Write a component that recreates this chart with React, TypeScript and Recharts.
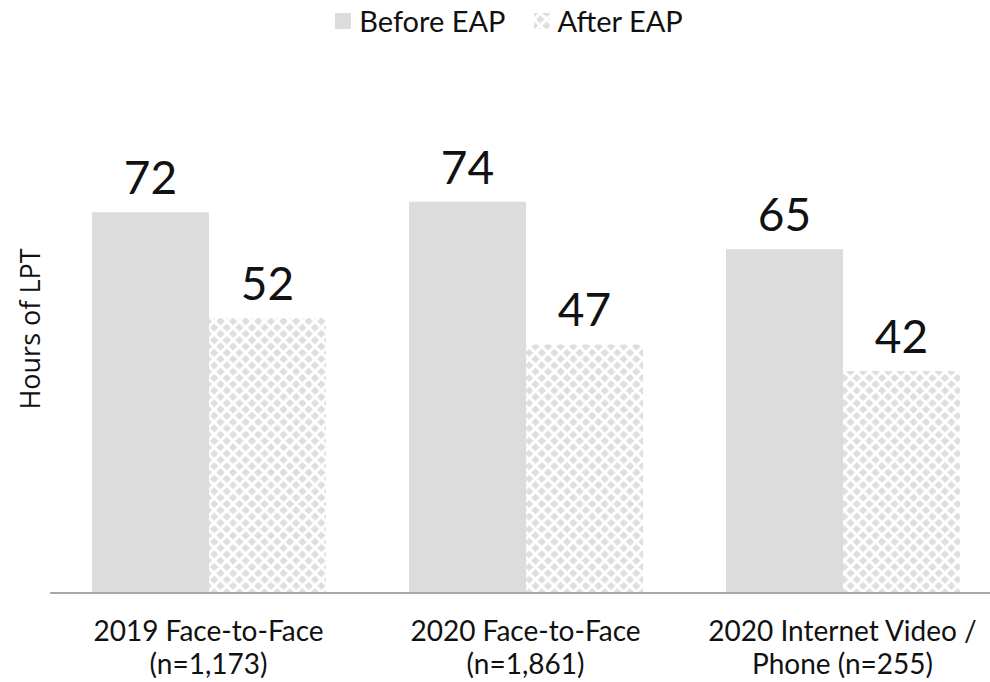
import React from 'react';
import { BarChart, Bar, XAxis, YAxis, LabelList } from 'recharts';

const categories = ['2019 Face-to-Face|(n=1,173)', '2020 Face-to-Face|(n=1,861)', '2020 Internet Video /|Phone (n=255)'];
const beforeEap = [72, 74, 65];
const afterEap = [52, 47, 42];

const data = categories.map((c, i) => ({ name: c, before: beforeEap[i], after: afterEap[i] }));

const FONT = 'Lato, "DejaVu Sans", sans-serif';

function CatTick(props: any) {
  const { x, y, payload } = props;
  const lines = String(payload.value).split('|');
  return (
    <g transform={`translate(${x},${y})`}>
      {lines.map((l, i) => (
        <text key={i} x={0} y={40 + i * 33} textAnchor="middle" fontSize={28} fill="#111" fontFamily={FONT}>
          {l}
        </text>
      ))}
    </g>
  );
}

function LegendItem({ label, fill }: { label: string; fill: string }) {
  return (
    <span style={{ display: 'inline-flex', alignItems: 'center', margin: '0 14px' }}>
      <svg width={16} height={16} style={{ marginRight: 8 }}>
        <rect width={16} height={16} fill={fill} />
      </svg>
      <span style={{ fontSize: 29, color: '#111', fontFamily: FONT }}>{label}</span>
    </span>
  );
}

export default function App() {
  return (
    <div style={{ position: 'fixed', left: 0, top: 0, width: 990, height: 682, overflow: 'hidden', background: '#fff' }}>
      <svg width={0} height={0} style={{ position: 'absolute' }}>
        <defs>
          <pattern id="diamonds" width={12.6} height={12.6} patternUnits="userSpaceOnUse">
            <rect width={12.6} height={12.6} fill="#fff" />
            <polygon points="6.3,2.1 10.5,6.3 6.3,10.5 2.1,6.3" fill="#dedede" />
            <polygon points="0,-4.2 4.2,0 0,4.2 -4.2,0" fill="#dedede" />
            <polygon points="12.6,-4.2 16.8,0 12.6,4.2 8.4,0" fill="#dedede" />
            <polygon points="0,8.4 4.2,12.6 0,16.8 -4.2,12.6" fill="#dedede" />
            <polygon points="12.6,8.4 16.8,12.6 12.6,16.8 8.4,12.6" fill="#dedede" />
          </pattern>
        </defs>
      </svg>
      <div style={{ position: 'absolute', top: 3, left: 14, width: 990, textAlign: 'center', whiteSpace: 'nowrap' }}>
        <LegendItem label="Before EAP" fill="#dcdcdc" />
        <LegendItem label="After EAP" fill="url(#diamonds)" />
      </div>
      <div
        style={{
          position: 'absolute',
          left: 29,
          top: 329,
          transform: 'translate(-50%, -50%) rotate(-90deg)',
          fontSize: 27,
          fontFamily: '"Open Sans", sans-serif',
          color: '#111',
          whiteSpace: 'nowrap',
          lineHeight: 1,
        }}
      >
        Hours of LPT
      </div>
      <BarChart
        width={1002}
        height={682}
        data={data}
        margin={{ top: 170, right: 1, bottom: 59, left: 50 }}
        barGap={0}
        barCategoryGap={42}
      >
        <XAxis
          dataKey="name"
          tick={<CatTick />}
          tickLine={false}
          axisLine={{ stroke: '#a8a8a8', strokeWidth: 2 }}
          interval={0}
        />
        <YAxis hide domain={[0, 80]} />
        <Bar dataKey="before" name="Before EAP" fill="#dcdcdc" isAnimationActive={false}>
          <LabelList dataKey="before" position="top" offset={18} fontSize={46} fill="#111" fontFamily={FONT} />
        </Bar>
        <Bar dataKey="after" name="After EAP" fill="url(#diamonds)" isAnimationActive={false}>
          <LabelList dataKey="after" position="top" offset={18} fontSize={46} fill="#111" fontFamily={FONT} />
        </Bar>
      </BarChart>
    </div>
  );
}
